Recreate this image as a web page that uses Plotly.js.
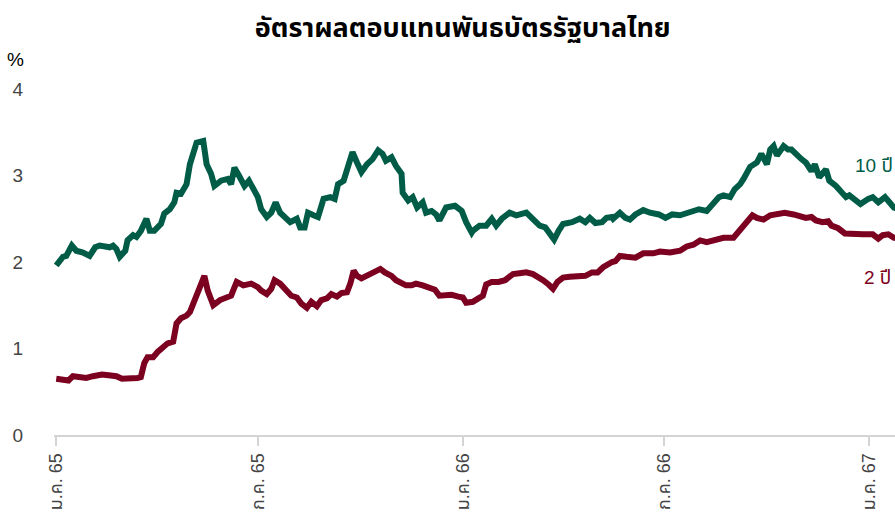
<!DOCTYPE html>
<html>
<head>
<meta charset="utf-8">
<script src="https://cdn.plot.ly/plotly-3.0.1.min.js"></script>
<style>html,body{margin:0;padding:0;background:#fff;}#chart{width:895px;height:525px;}</style>
</head>
<body>
<div id="chart"></div>
<script>
const dates10 = ['2022-01-01','2022-01-07','2022-01-10','2022-01-15','2022-01-19','2022-01-25','2022-01-31','2022-02-05','2022-02-09','2022-02-14','2022-02-18','2022-02-21','2022-02-24','2022-02-27','2022-03-04','2022-03-06','2022-03-11','2022-03-14','2022-03-18','2022-03-23','2022-03-26','2022-03-30','2022-04-05','2022-04-08','2022-04-13','2022-04-17','2022-04-19','2022-04-23','2022-04-28','2022-05-01','2022-05-04','2022-05-07','2022-05-13','2022-05-16','2022-05-20','2022-05-23','2022-05-29','2022-06-04','2022-06-07','2022-06-10','2022-06-14','2022-06-19','2022-06-23','2022-06-28','2022-07-01','2022-07-04','2022-07-09','2022-07-13','2022-07-17','2022-07-21','2022-07-25','2022-07-30','2022-08-05','2022-08-08','2022-08-12','2022-08-15','2022-08-20','2022-08-24','2022-08-29','2022-09-04','2022-09-08','2022-09-11','2022-09-16','2022-09-20','2022-09-24','2022-09-28','2022-10-02','2022-10-07','2022-10-12','2022-10-17','2022-10-21','2022-10-24','2022-10-29','2022-11-02','2022-11-07','2022-11-08','2022-11-13','2022-11-17','2022-11-21','2022-11-26','2022-11-29','2022-12-04','2022-12-08','2022-12-11','2022-12-17','2022-12-25','2022-12-31','2023-01-04','2023-01-09','2023-01-10','2023-01-16','2023-01-22','2023-01-27','2023-01-31','2023-02-05','2023-02-12','2023-02-18','2023-02-27','2023-03-05','2023-03-11','2023-03-16','2023-03-20','2023-03-24','2023-03-28','2023-04-01','2023-04-09','2023-04-16','2023-04-21','2023-04-25','2023-04-30','2023-05-06','2023-05-10','2023-05-15','2023-05-16','2023-05-22','2023-05-27','2023-05-31','2023-06-05','2023-06-12','2023-06-18','2023-06-26','2023-07-02','2023-07-08','2023-07-15','2023-07-23','2023-08-01','2023-08-08','2023-08-14','2023-08-19','2023-08-23','2023-08-29','2023-09-02','2023-09-07','2023-09-10','2023-09-13','2023-09-16','2023-09-22','2023-09-26','2023-10-01','2023-10-04','2023-10-07','2023-10-10','2023-10-16','2023-10-20','2023-10-23','2023-10-28','2023-11-01','2023-11-05','2023-11-10','2023-11-13','2023-11-17','2023-11-23','2023-11-26','2023-12-02','2023-12-07','2023-12-11','2023-12-14','2023-12-19','2023-12-24','2023-12-31','2024-01-04','2024-01-09','2024-01-15','2024-01-19','2024-01-23','2024-01-26'];
const yield10 = [1.96,2.06,2.07,2.19,2.13,2.11,2.07,2.17,2.19,2.17,2.17,2.19,2.15,2.06,2.13,2.25,2.31,2.29,2.36,2.50,2.36,2.36,2.44,2.56,2.61,2.69,2.80,2.79,2.90,3.13,3.29,3.38,3.40,3.13,3.02,2.88,2.94,2.96,2.90,3.09,3.00,2.88,2.94,2.82,2.75,2.61,2.52,2.57,2.69,2.57,2.51,2.46,2.50,2.40,2.40,2.57,2.54,2.52,2.73,2.75,2.73,2.90,2.94,3.13,3.27,3.15,3.04,3.13,3.19,3.29,3.25,3.17,3.21,3.11,3.02,2.80,2.71,2.75,2.63,2.69,2.57,2.59,2.55,2.48,2.63,2.65,2.59,2.46,2.34,2.36,2.42,2.42,2.50,2.42,2.50,2.57,2.54,2.57,2.50,2.42,2.40,2.32,2.26,2.36,2.44,2.46,2.50,2.46,2.51,2.45,2.46,2.51,2.52,2.50,2.57,2.51,2.49,2.55,2.60,2.57,2.55,2.51,2.55,2.54,2.57,2.61,2.59,2.69,2.75,2.77,2.75,2.84,2.90,2.96,3.02,3.10,3.15,3.25,3.13,3.30,3.34,3.23,3.34,3.30,3.30,3.23,3.19,3.15,3.05,3.13,2.98,3.07,2.94,2.88,2.80,2.75,2.77,2.73,2.67,2.73,2.75,2.69,2.75,2.69,2.63,2.62];

const dates2 = ['2022-01-01','2022-01-07','2022-01-12','2022-01-16','2022-01-22','2022-01-28','2022-02-03','2022-02-11','2022-02-17','2022-02-24','2022-03-01','2022-03-08','2022-03-15','2022-03-18','2022-03-21','2022-03-24','2022-03-29','2022-04-02','2022-04-07','2022-04-11','2022-04-16','2022-04-19','2022-04-23','2022-04-28','2022-05-01','2022-05-04','2022-05-07','2022-05-11','2022-05-14','2022-05-17','2022-05-22','2022-05-28','2022-06-03','2022-06-07','2022-06-12','2022-06-18','2022-06-25','2022-07-01','2022-07-04','2022-07-09','2022-07-13','2022-07-16','2022-07-21','2022-07-27','2022-07-31','2022-08-05','2022-08-09','2022-08-14','2022-08-18','2022-08-23','2022-08-27','2022-09-01','2022-09-05','2022-09-10','2022-09-14','2022-09-19','2022-09-22','2022-09-25','2022-09-28','2022-10-02','2022-10-07','2022-10-11','2022-10-19','2022-10-23','2022-10-29','2022-11-02','2022-11-07','2022-11-11','2022-11-16','2022-11-20','2022-11-26','2022-12-02','2022-12-07','2022-12-11','2022-12-16','2022-12-22','2022-12-28','2023-01-01','2023-01-04','2023-01-09','2023-01-10','2023-01-15','2023-01-19','2023-01-22','2023-01-27','2023-02-02','2023-02-08','2023-02-12','2023-02-15','2023-02-21','2023-02-27','2023-03-05','2023-03-10','2023-03-14','2023-03-19','2023-03-23','2023-03-27','2023-04-01','2023-04-07','2023-04-13','2023-04-21','2023-04-27','2023-05-02','2023-05-07','2023-05-11','2023-05-15','2023-05-18','2023-05-22','2023-05-28','2023-06-05','2023-06-12','2023-06-21','2023-06-27','2023-07-06','2023-07-15','2023-07-21','2023-07-27','2023-08-02','2023-08-08','2023-08-15','2023-08-23','2023-09-01','2023-09-06','2023-09-10','2023-09-15','2023-09-18','2023-09-22','2023-09-28','2023-10-04','2023-10-10','2023-10-17','2023-10-25','2023-11-01','2023-11-05','2023-11-10','2023-11-14','2023-11-20','2023-11-25','2023-11-28','2023-12-04','2023-12-10','2023-12-17','2023-12-26','2024-01-04','2024-01-09','2024-01-13','2024-01-18','2024-01-23','2024-01-26'];
const yield2 = [0.65,0.64,0.63,0.68,0.67,0.66,0.68,0.70,0.69,0.68,0.65,0.65,0.66,0.67,0.83,0.90,0.90,0.96,1.02,1.06,1.08,1.29,1.35,1.38,1.42,1.52,1.65,1.77,1.84,1.67,1.50,1.56,1.59,1.61,1.77,1.73,1.75,1.71,1.67,1.63,1.69,1.79,1.75,1.67,1.61,1.59,1.52,1.47,1.54,1.49,1.56,1.58,1.63,1.60,1.64,1.65,1.75,1.90,1.84,1.81,1.84,1.88,1.92,1.88,1.84,1.79,1.75,1.73,1.73,1.75,1.73,1.71,1.68,1.61,1.61,1.62,1.60,1.59,1.53,1.53,1.54,1.58,1.61,1.74,1.77,1.77,1.79,1.83,1.86,1.87,1.88,1.86,1.83,1.79,1.74,1.69,1.77,1.82,1.83,1.83,1.84,1.88,1.88,1.94,1.98,2.00,2.01,2.07,2.06,2.05,2.10,2.10,2.12,2.11,2.13,2.18,2.20,2.25,2.23,2.26,2.28,2.28,2.36,2.40,2.50,2.54,2.51,2.49,2.54,2.55,2.57,2.55,2.52,2.51,2.52,2.48,2.46,2.47,2.42,2.39,2.33,2.32,2.32,2.32,2.27,2.31,2.32,2.28,2.28];

const tickVals = ['2022-01-01','2022-07-01','2023-01-01','2023-07-01','2024-01-01'];
const tickText = ['ม.ค. 65','ก.ค. 65','ม.ค. 66','ก.ค. 66','ม.ค. 67'];
const seriesNames = ['10 ปี','2 ปี'];

const GREEN = '#005c47';
const RED = '#7c0020';
const FONT = '"Liberation Sans", Arial, Tahoma, "Noto Sans Thai", sans-serif';

const traces = [
  {x: dates10, y: yield10, type: 'scatter', mode: 'lines', name: seriesNames[0],
   line: {color: GREEN, width: 6}, hoverinfo: 'skip'},
  {x: dates2, y: yield2, type: 'scatter', mode: 'lines', name: seriesNames[1],
   line: {color: RED, width: 6}, hoverinfo: 'skip'}
];

const layout = {
  width: 895, height: 525,
  margin: {l: 54, r: 0, t: 89, b: 90},
  paper_bgcolor: '#fff', plot_bgcolor: '#fff',
  showlegend: false,
  font: {family: FONT, color: '#444'},
  title: {text: '<b>อัตราผลตอบแทนพันธบัตรรัฐบาลไทย</b>', x: 0.517, xref: 'container', xanchor: 'center',
          y: 0.947, yref: 'container', yanchor: 'middle',
          font: {size: 27, color: '#000', family: FONT}},
  xaxis: {
    type: 'date', range: ['2021-12-30', '2024-01-24'],
    tickvals: tickVals, ticktext: tickText, tickangle: -90,
    showgrid: false, zeroline: false,
    showline: true, linecolor: '#d4d4d4', linewidth: 2,
    ticks: 'outside', ticklen: 9, tickwidth: 2, tickcolor: '#d4d4d4',
    tickfont: {size: 18, color: '#444', family: FONT}, fixedrange: true
  },
  yaxis: {
    range: [0, 4], tickvals: [0, 1, 2, 3, 4], ticktext: ['0','1','2','3','4'],
    showgrid: false, zeroline: false, showline: false, ticks: '',
    ticklabelstandoff: 30,
    tickfont: {size: 19, color: '#444', family: FONT}, fixedrange: true
  },
  annotations: [
    {text: '%', xref: 'paper', yref: 'paper', x: -0.046, y: 1.085, xanchor: 'center', yanchor: 'middle',
     showarrow: false, font: {size: 19, color: '#000', family: FONT}},
    {text: seriesNames[0], xref: 'paper', yref: 'paper', x: 0.950, y: 0.780, xanchor: 'left', yanchor: 'middle',
     showarrow: false, font: {size: 19, color: GREEN, family: FONT}},
    {text: seriesNames[1], xref: 'paper', yref: 'paper', x: 0.961, y: 0.454, xanchor: 'left', yanchor: 'middle',
     showarrow: false, font: {size: 19, color: RED, family: FONT}}
  ]
};

Plotly.newPlot('chart', traces, layout, {displayModeBar: false, staticPlot: true});
</script>
</body>
</html>
